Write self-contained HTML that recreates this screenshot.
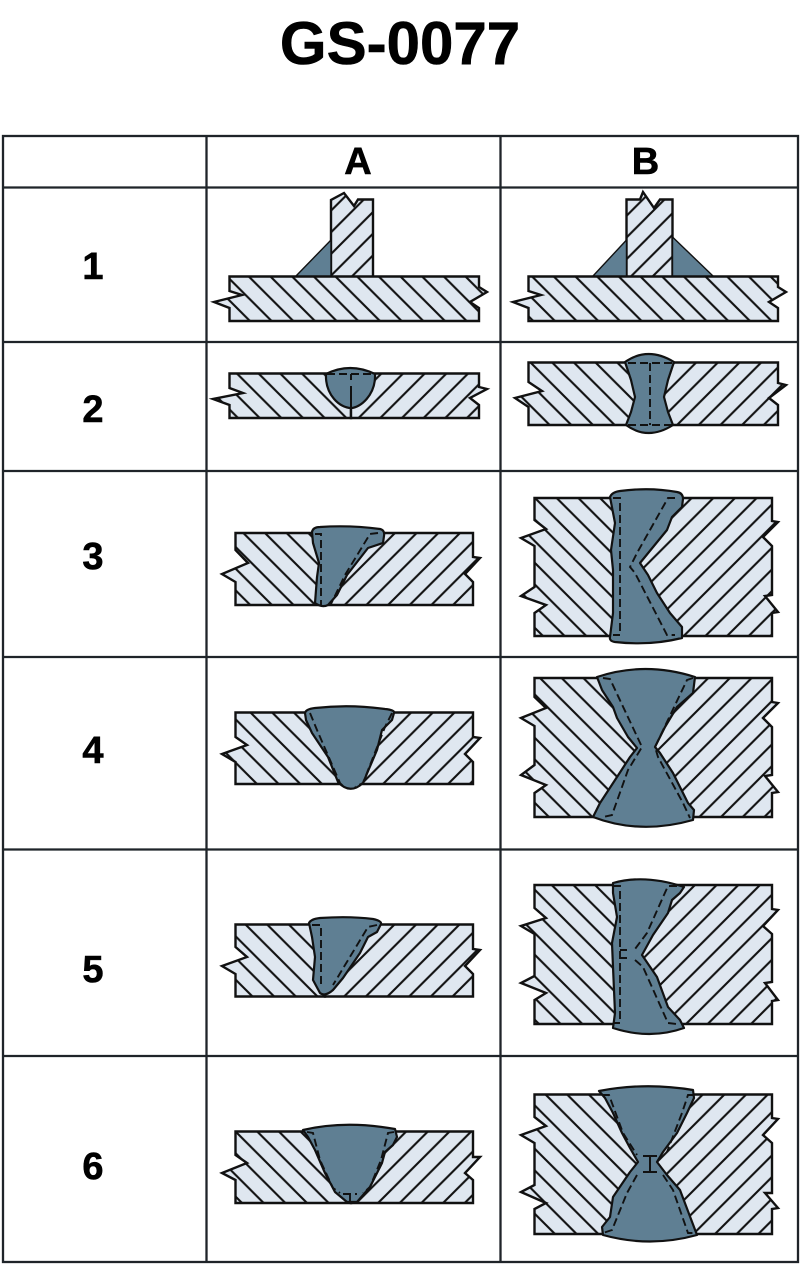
<!DOCTYPE html>
<html><head><meta charset="utf-8"><style>
html,body{margin:0;padding:0;background:#fff}
svg{display:block}
text{font-family:"Liberation Sans",Arial,sans-serif;font-weight:bold;fill:#000;stroke:#000;stroke-width:.6;text-anchor:middle}
.g{stroke:#1f2429;stroke-width:2.3;fill:none}
.p{stroke:#111;stroke-width:2.4;stroke-linejoin:miter}
.w{fill:#5f7f93;stroke:#111;stroke-width:2.2;stroke-linejoin:round}
.t{fill:#5f7f93;stroke:#111;stroke-width:1.4;stroke-linejoin:round}
.d{fill:none;stroke:#111;stroke-width:1.9;stroke-dasharray:8 4}
.s{fill:none;stroke:#111;stroke-width:2}
</style></head><body>
<svg width="800" height="1270" viewBox="0 0 800 1270" xmlns="http://www.w3.org/2000/svg">
<defs>
<pattern id="b" width="21.67" height="21.67" patternUnits="userSpaceOnUse"><rect width="21.67" height="21.67" fill="#dfe7f0"/><path d="M-2,-2L23.67,23.67M19.67,-2L23.67,2M-2,19.67L2,23.67" stroke="#111" stroke-width="2.1"/></pattern>
<pattern id="f" width="21.67" height="21.67" patternUnits="userSpaceOnUse"><rect width="21.67" height="21.67" fill="#dfe7f0"/><path d="M23.67,-2L-2,23.67M-2,2L2,-2M19.67,23.67L23.67,19.67" stroke="#111" stroke-width="2.1"/></pattern>
<pattern id="a1" href="#b" patternTransform="translate(248.3,276)"/>
<pattern id="a1v" href="#f" patternTransform="translate(373,212)"/>
<pattern id="b1" href="#b" patternTransform="translate(553.3,276)"/>
<pattern id="b1v" href="#f" patternTransform="translate(672.7,213)"/>
<pattern id="a2l" href="#b" patternTransform="translate(236.7,373.3)"/>
<pattern id="a2r" href="#f" patternTransform="translate(403.3,373.3)"/>
<pattern id="b2l" href="#b" patternTransform="translate(551.7,362)"/>
<pattern id="b2r" href="#f" patternTransform="translate(696.7,362)"/>
<pattern id="a3l" href="#b" patternTransform="translate(243.3,533)"/>
<pattern id="a3r" href="#f" patternTransform="translate(395,533)"/>
<pattern id="a4l" href="#b" patternTransform="translate(250,712)"/>
<pattern id="a4r" href="#f" patternTransform="translate(411.7,712)"/>
<pattern id="a5l" href="#b" patternTransform="translate(245,924)"/>
<pattern id="a5r" href="#f" patternTransform="translate(395,924)"/>
<pattern id="a6l" href="#b" patternTransform="translate(256.7,1131)"/>
<pattern id="a6r" href="#f" patternTransform="translate(406.7,1131)"/>
<pattern id="b3l" href="#b" patternTransform="translate(535,498)"/>
<pattern id="b3r" href="#f" patternTransform="translate(691.7,498)"/>
<pattern id="b4l" href="#b" patternTransform="translate(540,678)"/>
<pattern id="b4r" href="#f" patternTransform="translate(708.3,678)"/>
<pattern id="b5l" href="#b" patternTransform="translate(551.7,885)"/>
<pattern id="b5r" href="#f" patternTransform="translate(695,885)"/>
<pattern id="b6l" href="#b" patternTransform="translate(545,1094)"/>
<pattern id="b6r" href="#f" patternTransform="translate(703.3,1094)"/>
</defs>

<text x="400" y="64" font-size="60">GS-0077</text>

<rect class="g" x="3" y="136" width="795" height="1126"/>
<path class="g" d="M206.500,136V1262M500.500,136V1262M3,187.500H798M3,342H798M3,471H798M3,657H798M3,849.500H798M3,1056H798"/>

<text x="358" y="174" font-size="38">A</text>
<text x="645.500" y="174" font-size="38">B</text>
<text x="93" y="279" font-size="38">1</text>
<text x="93" y="422" font-size="38">2</text>
<text x="93" y="569" font-size="38">3</text>
<text x="93" y="763" font-size="38">4</text>
<text x="93" y="982" font-size="38">5</text>
<text x="93" y="1179" font-size="38">6</text>

<!-- 1A -->
<polygon class="p" fill="url(#a1v)" points="331,277 331,200 344,193 354,206 358,199.500 373,199.500 373,277"/>
<polygon class="p" fill="url(#a1)" points="229.500,276.500 479,276.500 479,287 487,292 470,302 479,308 479,321 229.500,321 229.500,308 214,302 242,295 229.500,291"/>
<polygon class="t" points="296,276 331,240 331,276"/>

<!-- 1B -->
<polygon class="p" fill="url(#b1v)" points="626.500,277 626.500,199.500 640,199.500 643,192 654,208 660,199.500 672.500,199.500 672.500,277"/>
<polygon class="p" fill="url(#b1)" points="528.500,276.500 778,276.500 778,287 786,292 769,302 778,308 778,321 528.500,321 528.500,308 513,302 541,295 528.500,291"/>
<polygon class="t" points="593,276 626.500,240 626.500,276"/>
<polygon class="t" points="672.500,237 713,276 672.500,276"/>

<!-- 2A -->
<polygon class="p" fill="url(#a2l)" points="229.500,373.500 351,373.500 351,418 229.500,418 229.500,405 213,399 243,393 229.500,388"/>
<polygon class="p" fill="url(#a2r)" points="351,373.500 479,373.500 479,387 487,389 470,398 479,405 479,418 351,418"/>
<path class="w" d="M326,374Q350,362 375,374C376,395 360,408 351,408C340,408 325,395 326,374Z"/>
<path class="d" d="M327,374H375"/>
<path class="s" d="M351,374V380M351,386V418"/>

<!-- 2B -->
<polygon class="p" fill="url(#b2l)" points="528.500,362.500 648,362.500 648,425 528.500,425 528.500,407 515,398 542,391 528.500,382"/>
<polygon class="p" fill="url(#b2r)" points="648,362.500 778,362.500 778,383 786,385 769,398 778,405 778,425 648,425"/>
<path class="w" d="M625,362Q648,346 674,362L668,380L664,397L668,412L673,425Q648,441 626,425L631,412L635,397L631,380Z"/>
<path class="d" d="M628,363H672M650,363V425M628,425H672"/>

<!-- 3A -->
<polygon class="p" fill="url(#a3l)" points="235.500,533 325,533 325,605 235.500,605 235.500,582 222,574 248,563 235.500,550"/>
<polygon class="p" fill="url(#a3r)" points="325,533 473,533 473,557 480,558 465,574 473,582 473,605 325,605"/>
<path class="w" d="M312,532Q313,527 320,527Q350,525 380,529Q385,530 384,536L383,543L368,548L347,575L337,595L328,605Q322,608 315,603L317,577L319,563L313,543Z"/>
<path class="d" d="M315,534H321V605M378,533L370,534L345,575L331,604"/>

<!-- 4A -->
<polygon class="p" fill="url(#a4l)" points="235.500,712.500 350,712.500 350,784 235.500,784 235.500,762 222,754 247,745 235.500,737"/>
<polygon class="p" fill="url(#a4r)" points="350,712.500 473,712.500 473,737 480,738 465,754 473,762 473,784 350,784"/>
<path class="w" d="M305,713Q306,709 315,708Q350,704 385,709Q395,710 394,713L392,720L382,730L377,750L363,783Q350,795 338,782L328,757L312,733L306,720Z"/>
<path class="d" d="M310,713L317,730L340,783L344,787M392,713L385,727L363,783L355,787"/>

<!-- 5A -->
<polygon class="p" fill="url(#a5l)" points="235.500,924.500 325,924.500 325,996.500 235.500,996.500 235.500,974 222,966 247,957 235.500,947"/>
<polygon class="p" fill="url(#a5r)" points="325,924.500 473,924.500 473,949 480,950 465,966 473,974 473,996.500 325,996.500"/>
<path class="w" d="M309,923Q311,919 320,918Q350,916 373,919Q382,921 381,924L377,932L368,937L360,953L343,978L333,990Q325,997 320,993L313,980L315,957L312,937Z"/>
<path class="d" d="M312,925H321V987M377,925L368,927L333,985"/>

<!-- 6A -->
<polygon class="p" fill="url(#a6l)" points="235.500,1131.500 351,1131.500 351,1203 235.500,1203 235.500,1180 222,1173 247,1163 235.500,1155"/>
<polygon class="p" fill="url(#a6r)" points="351,1131.500 473,1131.500 473,1157 480,1157 465,1173 473,1180 473,1203 351,1203"/>
<path class="w" d="M303,1130Q345,1120 395,1129L397,1137L393,1145L385,1152L382,1163L370,1187L357,1202L347,1202L335,1192L325,1173L315,1150L308,1137Z"/>
<path class="d" d="M307,1132L313,1133L320,1160L333,1188L340,1193M343,1194H357M350,1194V1201M394,1132L388,1133L381,1160L370,1187L363,1193"/>

<!-- 3B -->
<polygon class="p" fill="url(#b3l)" points="534.500,498 628,498 628,636 534.500,636 534.500,613 546,605 521,596 534.500,587 534.500,546 521,538 546,529 534.500,520"/>
<polygon class="p" fill="url(#b3r)" points="628,498 772,498 772,521 778,522 763,537 772,546 772,595 765,596 778,612 772,613 772,636 628,636"/>
<path class="w" d="M610,497Q612,492 620,491Q650,487 677,492Q683,493 683,499L682,507L672,517L667,530L640,563L648,575L657,593L670,613L682,627L682,638Q650,646 615,642Q609,641 610,637L613,613L613,570L611,550L615,523Z"/>
<path class="d" d="M613,498H620V635H613M675,498H668L637,553L630,567L635,573L667,635H675"/>

<!-- 4B -->
<polygon class="p" fill="url(#b4l)" points="534.500,678 645,678 645,817 534.500,817 534.500,793 546,785 521,775 534.500,765 534.500,726 521,718 546,708 534.500,697"/>
<polygon class="p" fill="url(#b4r)" points="645,678 772,678 772,702 778,703 763,718 772,727 772,775 765,776 778,792 772,793 772,817 645,817"/>
<path class="w" d="M597,677Q645,661 695,677L693,693L677,707L665,727L655,747L660,753L673,773L688,803L694,810L693,820Q640,835 593,817L600,803L617,777L630,757L637,748L628,737L617,718L613,707L602,690Z"/>
<path class="d" d="M603,678L610,679L642,747L628,770L612,815L603,817M693,678L687,680L655,747L658,757L683,803L690,818"/>

<!-- 5B -->
<polygon class="p" fill="url(#b5l)" points="534.500,885 630,885 630,1024 534.500,1024 534.500,1000 546,993 521,983 534.500,976 534.500,934 521,926 546,918 534.500,908"/>
<polygon class="p" fill="url(#b5r)" points="630,885 772,885 772,909 778,910 763,926 772,934 772,982 765,983 778,1000 772,1001 772,1024 630,1024"/>
<path class="w" d="M613,883Q645,874 684,887L680,893L672,900L668,913L653,935L642,955L657,977L668,1007L680,1020L684,1028Q650,1040 613,1028L615,1013L613,967L612,943L617,917L613,893Z"/>
<path class="d" d="M613,886H620V1023H613M620,950H627M620,958H627M677,886H668L647,933L635,949M635,960L643,967L668,1023L677,1024"/>

<!-- 6B -->
<polygon class="p" fill="url(#b6l)" points="534.500,1094.500 648,1094.500 648,1234 534.500,1234 534.500,1209 546,1203 521,1192 534.500,1185 534.500,1143 521,1135 546,1126 534.500,1117"/>
<polygon class="p" fill="url(#b6r)" points="648,1094.500 772,1094.500 772,1118 778,1119 763,1135 772,1143 772,1193 765,1193 778,1208 772,1209 772,1234 648,1234"/>
<path class="w" d="M599,1091Q645,1082 693,1090L694,1098L687,1113L677,1133L663,1152L657,1162L667,1175L680,1190L697,1235Q650,1248 603,1235L602,1227L610,1217L613,1197L630,1172L638,1162L630,1148L622,1133L613,1113L605,1098Z"/>
<path class="d" d="M602,1095H609L623,1133L637,1155M693,1095H688L682,1113L667,1152M637,1175L627,1193L612,1230L603,1233M663,1175L673,1190L688,1233H695"/>
<path class="s" d="M643,1156H657M650,1156V1172M643,1172H657"/>
</svg>
</body></html>
